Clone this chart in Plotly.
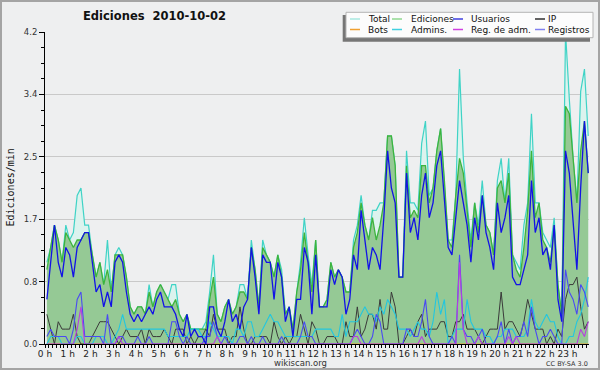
import plotly.graph_objects as go

# ---------------- data (10-minute bins, values in edits per minute) ----------------
hours = list(range(24))
hour_labels = [f"{h} h" for h in hours]
bin_minutes = [5 + 10 * i for i in range(144)]   # centre of each 10-minute bin

total = [
    1.1, 1.3, 1.6, 1.4, 1.1, 1.6, 1.4, 1.5, 2.0, 2.1, 1.6, 1.6,
    1.2, 0.9, 1.1, 0.8, 1.4, 0.7, 1.2, 1.3, 1.2, 0.9, 0.5, 0.4,
    0.5, 0.5, 0.4, 0.8, 0.5, 0.7, 0.8, 0.7, 0.6, 0.8, 0.8, 0.4,
    0.3, 0.4, 0.2, 0.2, 0.2, 0.2, 0.3, 0.7, 1.2, 0.4, 0.3, 0.5,
    0.6, 0.4, 0.5, 0.8, 0.8, 0.6, 1.4, 1.0, 0.5, 1.4, 1.2, 1.1,
    0.9, 1.2, 1.0, 0.4, 0.5, 0.2, 0.7, 1.1, 1.7, 1.2, 0.8, 1.4,
    0.5, 0.5, 0.6, 1.1, 0.9, 1.0, 0.9, 0.7, 0.7, 1.4, 1.6, 2.0,
    1.6, 1.4, 1.8, 1.8, 1.9, 1.9, 2.8, 2.8, 2.4, 0.9, 0.9, 2.6,
    1.9, 1.9, 1.8, 2.7, 3.0, 2.0, 2.1, 2.6, 2.9, 2.2, 1.4, 1.4,
    2.0, 3.7, 2.5, 1.9, 1.4, 1.9, 1.6, 2.2, 1.6, 1.5, 1.2, 2.2,
    2.5, 1.9, 2.5, 1.2, 1.1, 1.0, 1.6, 1.9, 3.1, 1.9, 1.9, 1.5,
    1.4, 1.3, 1.7, 0.8, 0.4, 4.2, 3.3, 2.5, 1.9, 3.4, 3.7, 2.8,
]
ediciones = [
    1.0, 1.3, 1.6, 1.4, 1.1, 1.5, 1.4, 1.3, 1.4, 1.4, 1.5, 1.5,
    1.2, 0.9, 1.1, 0.8, 1.0, 0.7, 1.2, 1.2, 1.2, 0.9, 0.5, 0.4,
    0.5, 0.5, 0.4, 0.7, 0.5, 0.7, 0.8, 0.7, 0.6, 0.5, 0.6, 0.4,
    0.3, 0.4, 0.2, 0.2, 0.2, 0.2, 0.2, 0.6, 0.9, 0.4, 0.3, 0.5,
    0.6, 0.4, 0.5, 0.7, 0.7, 0.6, 1.3, 1.0, 0.5, 1.3, 1.2, 1.1,
    0.9, 1.2, 0.9, 0.4, 0.5, 0.2, 0.7, 1.0, 1.5, 1.1, 0.7, 1.4,
    0.5, 0.5, 0.6, 1.1, 0.9, 1.0, 0.9, 0.7, 0.7, 1.3, 1.5, 1.9,
    1.6, 1.4, 1.7, 1.4, 1.6, 1.9, 2.8, 2.8, 2.4, 0.9, 0.9, 2.4,
    1.7, 1.8, 1.7, 2.4, 2.4, 1.9, 2.1, 2.6, 2.9, 2.2, 1.4, 1.3,
    2.0, 2.5, 2.3, 1.8, 1.3, 1.9, 1.5, 2.0, 1.6, 1.5, 1.2, 2.1,
    2.2, 1.9, 2.3, 1.2, 1.0, 0.9, 1.3, 1.8, 2.6, 1.7, 1.9, 1.4,
    1.3, 1.1, 1.6, 0.8, 0.4, 3.2, 3.1, 2.5, 1.9, 2.6, 3.0, 2.3,
]
usuarios = [
    0.6, 1.1, 1.6, 1.1, 0.9, 1.3, 1.2, 0.9, 1.3, 1.4, 1.5, 1.5,
    1.1, 0.7, 0.8, 0.5, 0.7, 0.5, 1.1, 1.2, 1.1, 0.7, 0.4, 0.3,
    0.4, 0.3, 0.4, 0.5, 0.4, 0.6, 0.7, 0.5, 0.5, 0.5, 0.4, 0.2,
    0.1, 0.4, 0.1, 0.2, 0.1, 0.1, 0.0, 0.5, 0.5, 0.2, 0.1, 0.3,
    0.6, 0.3, 0.4, 0.2, 0.5, 0.6, 1.3, 0.9, 0.4, 1.2, 1.1, 1.1,
    0.6, 1.1, 0.9, 0.3, 0.5, 0.1, 0.6, 0.6, 1.3, 1.1, 0.4, 1.2,
    0.5, 0.5, 0.5, 1.0, 0.8, 1.0, 0.9, 0.4, 0.6, 1.2, 1.0, 1.8,
    1.4, 1.0, 1.3, 1.2, 1.0, 1.7, 2.6, 2.1, 1.9, 0.9, 0.9, 2.3,
    1.5, 1.7, 1.4, 2.0, 2.3, 1.7, 1.9, 2.4, 2.6, 1.9, 1.3, 1.2,
    1.7, 2.2, 1.9, 1.6, 1.1, 1.7, 1.4, 2.0, 1.5, 1.3, 1.0, 1.9,
    1.5, 1.7, 2.0, 0.9, 0.8, 0.8, 1.0, 1.2, 2.2, 1.5, 1.7, 1.2,
    1.3, 1.0, 1.6, 0.6, 0.3, 2.6, 2.3, 1.7, 1.0, 2.1, 3.0, 2.3,
]
ip = [
    0.4, 0.2, 0.0, 0.3, 0.2, 0.2, 0.2, 0.4, 0.1, 0.0, 0.0, 0.0,
    0.1, 0.2, 0.3, 0.3, 0.3, 0.2, 0.1, 0.0, 0.1, 0.2, 0.1, 0.1,
    0.1, 0.2, 0.0, 0.2, 0.1, 0.1, 0.1, 0.2, 0.1, 0.0, 0.2, 0.2,
    0.2, 0.0, 0.1, 0.0, 0.1, 0.1, 0.2, 0.1, 0.4, 0.2, 0.2, 0.2,
    0.0, 0.1, 0.1, 0.5, 0.2, 0.0, 0.0, 0.1, 0.1, 0.1, 0.1, 0.0,
    0.3, 0.1, 0.0, 0.1, 0.0, 0.1, 0.1, 0.4, 0.2, 0.0, 0.3, 0.2,
    0.0, 0.0, 0.1, 0.1, 0.1, 0.0, 0.0, 0.3, 0.1, 0.1, 0.5, 0.1,
    0.2, 0.4, 0.4, 0.2, 0.6, 0.2, 0.2, 0.7, 0.5, 0.0, 0.0, 0.1,
    0.2, 0.1, 0.3, 0.4, 0.1, 0.2, 0.2, 0.2, 0.3, 0.3, 0.1, 0.1,
    0.3, 0.3, 0.4, 0.2, 0.2, 0.2, 0.1, 0.0, 0.1, 0.2, 0.2, 0.2,
    0.7, 0.2, 0.3, 0.3, 0.2, 0.1, 0.3, 0.6, 0.4, 0.2, 0.2, 0.2,
    0.0, 0.1, 0.0, 0.2, 0.1, 0.6, 0.8, 0.8, 0.9, 0.5, 0.2, 0.3,
]
bots = [0.0] * 144
admins = [
    0.0, 0.1, 0.1, 0.1, 0.0, 0.0, 0.0, 0.0, 0.1, 0.1, 0.0, 0.0,
    0.0, 0.1, 0.1, 0.1, 0.0, 0.0, 0.1, 0.2, 0.4, 0.2, 0.2, 0.2,
    0.2, 0.2, 0.2, 0.2, 0.2, 0.2, 0.2, 0.2, 0.1, 0.1, 0.1, 0.1,
    0.1, 0.1, 0.2, 0.2, 0.2, 0.1, 0.1, 0.3, 0.2, 0.1, 0.1, 0.1,
    0.1, 0.0, 0.2, 0.2, 0.1, 0.3, 0.3, 0.1, 0.1, 0.2, 0.3, 0.4,
    0.3, 0.3, 0.2, 0.1, 0.1, 0.1, 0.1, 0.1, 0.1, 0.1, 0.1, 0.2,
    0.2, 0.2, 0.2, 0.2, 0.1, 0.1, 0.4, 0.1, 0.3, 0.3, 0.3, 0.4,
    0.5, 0.4, 0.4, 0.3, 0.5, 0.4, 0.6, 0.5, 0.4, 0.2, 0.2, 0.2,
    0.1, 0.2, 0.3, 0.2, 0.2, 0.1, 0.3, 0.7, 0.4, 0.6, 0.0, 0.1,
    0.2, 0.2, 0.2, 0.6, 0.3, 0.2, 0.2, 0.2, 0.1, 0.1, 0.0, 0.1,
    0.1, 0.2, 0.2, 0.2, 0.1, 0.1, 0.1, 0.2, 0.6, 0.3, 0.2, 0.3,
    0.4, 0.3, 0.3, 0.1, 0.0, 0.0, 0.1, 0.1, 0.3, 0.4, 0.6, 0.9,
]
reg_adm = [
    0.0, 0.0, 0.0, 0.0, 0.0, 0.0, 0.0, 0.0, 0.2, 0.5, 0.0, 0.0,
    0.0, 0.0, 0.0, 0.0, 0.0, 0.0, 0.0, 0.1, 0.0, 0.0, 0.0, 0.0,
    0.0, 0.0, 0.0, 0.0, 0.0, 0.0, 0.0, 0.0, 0.0, 0.0, 0.0, 0.0,
    0.0, 0.0, 0.0, 0.0, 0.0, 0.0, 0.0, 0.0, 0.0, 0.1, 0.0, 0.0,
    0.0, 0.0, 0.0, 0.0, 0.0, 0.0, 0.0, 0.0, 0.0, 0.0, 0.0, 0.0,
    0.0, 0.0, 0.0, 0.0, 0.0, 0.0, 0.0, 0.0, 0.0, 0.0, 0.0, 0.0,
    0.0, 0.0, 0.0, 0.0, 0.0, 0.0, 0.0, 0.0, 0.0, 0.1, 0.1, 0.0,
    0.0, 0.0, 0.0, 0.0, 0.0, 0.0, 0.0, 0.0, 0.0, 0.0, 0.0, 0.0,
    0.0, 0.0, 0.0, 0.1, 0.0, 0.0, 0.0, 0.0, 0.0, 0.0, 0.0, 0.0,
    0.0, 1.1, 0.2, 0.0, 0.0, 0.0, 0.1, 0.0, 0.0, 0.0, 0.0, 0.0,
    0.0, 0.0, 0.1, 0.0, 0.1, 0.0, 0.0, 0.0, 0.0, 0.0, 0.0, 0.0,
    0.0, 0.0, 0.0, 0.0, 0.0, 0.0, 0.0, 0.0, 0.0, 0.2, 0.1, 0.3,
]
registros = [
    0.1, 0.2, 0.1, 0.1, 0.1, 0.1, 0.0, 0.2, 0.6, 0.7, 0.1, 0.1,
    0.1, 0.1, 0.1, 0.0, 0.4, 0.0, 0.0, 0.1, 0.1, 0.0, 0.0, 0.0,
    0.1, 0.0, 0.0, 0.1, 0.0, 0.0, 0.0, 0.0, 0.0, 0.3, 0.3, 0.1,
    0.0, 0.1, 0.0, 0.0, 0.0, 0.0, 0.1, 0.1, 0.3, 0.1, 0.0, 0.1,
    0.0, 0.0, 0.0, 0.1, 0.1, 0.0, 0.1, 0.0, 0.0, 0.1, 0.0, 0.0,
    0.0, 0.0, 0.1, 0.0, 0.0, 0.0, 0.0, 0.1, 0.3, 0.1, 0.1, 0.0,
    0.0, 0.0, 0.0, 0.0, 0.0, 0.0, 0.0, 0.0, 0.0, 0.1, 0.2, 0.1,
    0.0, 0.0, 0.1, 0.4, 0.3, 0.0, 0.0, 0.0, 0.0, 0.0, 0.0, 0.2,
    0.2, 0.1, 0.1, 0.3, 0.6, 0.1, 0.0, 0.0, 0.0, 0.0, 0.0, 0.1,
    0.0, 1.2, 0.2, 0.1, 0.1, 0.0, 0.1, 0.2, 0.0, 0.0, 0.0, 0.1,
    0.3, 0.0, 0.2, 0.0, 0.1, 0.1, 0.3, 0.1, 0.5, 0.2, 0.0, 0.1,
    0.1, 0.2, 0.1, 0.0, 0.0, 1.0, 0.7, 0.6, 0.4, 0.8, 0.7, 0.5,
]

y_ticks = [0.0, 0.84, 1.68, 2.52, 3.36, 4.2]
y_tick_labels = ["0.0", "0.8", "1.7", "2.5", "3.4", "4.2"]

legend_rows = [
    [("Total", "#a8e8e0"), ("Ediciones", "#90d890"), ("Usuarios", "#4040e0"), ("IP", "#303030")],
    [("Bots", "#f0a030"), ("Admins.", "#40d0e0"), ("Reg. de adm.", "#d040e0"), ("Registros", "#8080f0")],
]

# ---------------- figure ----------------
BG = "#eeeff0"
PL, PR, PT, PB = 45, 589, 32, 344   # plot area in pixels


def px(x):
    return (x - PL) / (PR - PL)


def py(y):
    return (PB - y) / (PB - PT)


fig = go.Figure()
fig.add_trace(go.Scatter(x=bin_minutes, y=total, mode="lines", fill="tozeroy",
                         fillcolor="#dcf3ee", line=dict(color="#3fd3c6", width=1.2),
                         name="Total", showlegend=False))
fig.add_trace(go.Scatter(x=bin_minutes, y=ediciones, mode="lines", fill="tozeroy",
                         fillcolor="#95c995", line=dict(color="#3db43d", width=1.3),
                         name="Ediciones", showlegend=False))
fig.add_trace(go.Scatter(x=bin_minutes, y=bots, mode="lines",
                         line=dict(color="#f0a030", width=1), name="Bots", showlegend=False))
fig.add_trace(go.Scatter(x=bin_minutes, y=ip, mode="lines",
                         line=dict(color="#3a3a3a", width=1), name="IP", showlegend=False))
fig.add_trace(go.Scatter(x=bin_minutes, y=admins, mode="lines",
                         line=dict(color="#22c6e0", width=1.1), name="Admins.", showlegend=False))
fig.add_trace(go.Scatter(x=bin_minutes, y=registros, mode="lines",
                         line=dict(color="#4a4af2", width=1.1), name="Registros", showlegend=False))
fig.add_trace(go.Scatter(x=bin_minutes, y=reg_adm, mode="lines",
                         line=dict(color="#b83ee0", width=1.1), name="Reg. de adm.", showlegend=False))
fig.add_trace(go.Scatter(x=bin_minutes, y=usuarios, mode="lines",
                         line=dict(color="#1212e6", width=1.3), name="Usuarios", showlegend=False))

shapes = []
annotations = []

# outer border
shapes.append(dict(type="rect", xref="paper", yref="paper", x0=px(1), x1=px(599),
                   y0=py(369), y1=py(1), line=dict(color="#a4a4a4", width=2),
                   fillcolor="rgba(0,0,0,0)", layer="above"))

# legend (shadow, box, swatches, labels)
shapes.append(dict(type="rect", xref="paper", yref="paper", x0=px(342.7), x1=px(590),
                   y0=py(41.7), y1=py(15), line=dict(width=0), fillcolor="#767676", layer="above"))
shapes.append(dict(type="rect", xref="paper", yref="paper", x0=px(346), x1=px(593),
                   y0=py(37.7), y1=py(12.3), line=dict(color="#b4b4b4", width=1),
                   fillcolor="#fcfcfc", layer="above"))
col_swatch = [350, 392, 453, 535]
col_text = [366, 408.5, 468.5, 546]
row_y = [19, 29.5]
for r, row in enumerate(legend_rows):
    for c, (label, color) in enumerate(row):
        shapes.append(dict(type="line", xref="paper", yref="paper",
                           x0=px(col_swatch[c]), x1=px(col_swatch[c] + 10),
                           y0=py(row_y[r]), y1=py(row_y[r]),
                           line=dict(color=color, width=1.5), layer="above"))
        annotations.append(dict(text=label, xref="paper", yref="paper",
                                x=px(col_text[c]), y=py(row_y[r]), xanchor="left",
                                yanchor="middle", showarrow=False,
                                font=dict(family="DejaVu Sans", size=9, color="#111")))

# title
annotations.append(dict(text="Ediciones  2010-10-02", xref="paper", yref="paper",
                        x=px(154), y=py(16.5), xanchor="center", yanchor="middle",
                        showarrow=False,
                        font=dict(family="DejaVu Sans", size=11.5, color="#111", weight="bold")))
# y axis title
annotations.append(dict(text="Ediciones/min", xref="paper", yref="paper",
                        x=px(9.5), y=py(188), xanchor="center", yanchor="middle",
                        textangle=-90, showarrow=False,
                        font=dict(family="DejaVu Sans Mono", size=10, color="#111")))
# footer texts
annotations.append(dict(text="wikiscan.org", xref="paper", yref="paper",
                        x=px(300), y=py(363), xanchor="center", yanchor="middle",
                        showarrow=False, font=dict(family="DejaVu Sans", size=8.5, color="#333")))
annotations.append(dict(text="CC BY-SA 3.0", xref="paper", yref="paper",
                        x=px(590), y=py(364), xanchor="right", yanchor="middle",
                        showarrow=False, font=dict(family="DejaVu Sans", size=6.5, color="#333")))

fig.update_layout(
    width=600, height=370,
    margin=dict(l=PL, r=600 - PR, t=PT, b=370 - PB),
    paper_bgcolor=BG, plot_bgcolor=BG,
    showlegend=False,
    shapes=shapes, annotations=annotations,
    xaxis=dict(
        range=[0, 1437], showgrid=False, zeroline=False,
        showline=True, linecolor="black", linewidth=1,
        tickmode="array", tickvals=[60 * h for h in hours], ticktext=hour_labels,
        tickangle=0, ticklabelstandoff=-2,
        ticks="outside", ticklen=3, tickcolor="black", tickwidth=1,
        tickfont=dict(family="DejaVu Sans", size=9, color="#222"),
        minor=dict(dtick=10, tick0=0, ticks="outside", ticklen=3, tickcolor="black",
                   showgrid=False),
    ),
    yaxis=dict(
        range=[0, 4.2], zeroline=False,
        showgrid=True, gridcolor="#c9c9c9", gridwidth=1,
        showline=True, linecolor="black", linewidth=1,
        tickmode="array", tickvals=y_ticks, ticktext=y_tick_labels,
        ticks="outside", ticklen=5, tickcolor="black", tickwidth=1,
        tickfont=dict(family="DejaVu Sans", size=8.5, color="#333"),
        minor=dict(dtick=0.21, tick0=0, ticks="outside", ticklen=3, tickcolor="black",
                   showgrid=False),
    ),
)

fig.write_html(
    "out.html",
    config={"displayModeBar": False},
    post_script="document.body.style.margin='0';document.body.style.overflow='hidden';"
                "window.dispatchEvent(new Event('resize'));",
)
